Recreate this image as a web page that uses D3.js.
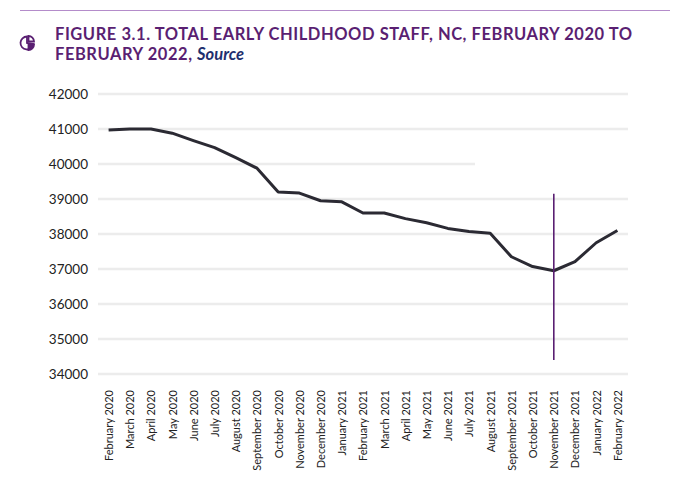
<!DOCTYPE html>
<html>
<head>
<meta charset="utf-8">
<script src="https://cdn.jsdelivr.net/npm/d3@7"></script>
<style>
  body { margin: 0; background: #fff; }
  text { font-family: Lato, "Open Sans", sans-serif; }
</style>
</head>
<body>
<script>
// Data
var months = ["February 2020", "March 2020", "April 2020", "May 2020", "June 2020",
    "July 2020", "August 2020", "September 2020", "October 2020", "November 2020",
    "December 2020", "January 2021", "February 2021", "March 2021", "April 2021",
    "May 2021", "June 2021", "July 2021", "August 2021", "September 2021",
    "October 2021", "November 2021", "December 2021", "January 2022", "February 2022"];
var staff = [40970, 41000, 41000, 40880, 40670, 40470, 40180, 39880, 39200, 39170,
    38950, 38920, 38600, 38600, 38440, 38320, 38160, 38070, 38020, 37350,
    37070, 36950, 37210, 37750, 38100];
var yTicks = [34000, 35000, 36000, 37000, 38000, 39000, 40000, 41000, 42000];
var markerMonth = "November 2021";
var markerRange = [34400, 39150];

var svgWidth = 680;
var svgHeight = 491;

var svg = d3.select("body")
    .append("svg")
    .attr("width", svgWidth)
    .attr("height", svgHeight);

// Top rule
svg.append("line")
    .attr("x1", 20).attr("x2", 670)
    .attr("y1", 10.5).attr("y2", 10.5)
    .attr("stroke", "#b48cca")
    .attr("stroke-width", 1.2);

// Pie icon
var icon = svg.append("g")
    .attr("transform", "translate(27, 43)")
    .attr("fill", "none")
    .attr("stroke", "#5a1f72")
    .attr("stroke-width", 1.8);
icon.append("path")
    .attr("d", d3.arc()({ innerRadius: 0, outerRadius: 6.5, startAngle: Math.PI * 0.55, endAngle: Math.PI * 2 }));
icon.append("path")
    .attr("transform", "translate(1.5,-1.5)")
    .attr("d", d3.arc()({ innerRadius: 0, outerRadius: 5.5, startAngle: 0, endAngle: Math.PI * 0.5 }));
icon.append("path")
    .attr("transform", "translate(1.5,1.5)")
    .attr("fill", "#5a1f72")
    .attr("d", d3.arc()({ innerRadius: 0, outerRadius: 5.5, startAngle: Math.PI * 0.5, endAngle: Math.PI }));

// Title
var title = svg.append("text")
    .attr("x", 55)
    .attr("y", 40)
    .attr("fill", "#5a1f72")
    .attr("font-size", "16.5px")
    .attr("font-weight", "bold")
    .attr("letter-spacing", "0.55px");
title.append("tspan")
    .attr("x", 55)
    .text("FIGURE 3.1. TOTAL EARLY CHILDHOOD STAFF, NC, FEBRUARY 2020 TO");
title.append("tspan")
    .attr("x", 55)
    .attr("dy", 19.5)
    .text("FEBRUARY 2022, ");
title.append("tspan")
    .attr("fill", "#1f2f6e")
    .attr("font-style", "italic")
    .attr("letter-spacing", "0px")
    .text("Source");

// Scales
var xScale = d3.scalePoint()
    .domain(months)
    .range([98, 628])
    .padding(0.5);

var yScale = d3.scaleLinear()
    .domain([34000, 42000])
    .range([374, 94]);

// Gridlines
svg.append("g")
    .selectAll("line")
    .data(yTicks)
    .enter()
    .append("line")
    .attr("x1", 98)
    .attr("x2", 628)
    .attr("y1", d => yScale(d))
    .attr("y2", d => yScale(d))
    .attr("stroke", "#ececec")
    .attr("stroke-width", 2.5);

// the 40000 line is cut short in the original
svg.append("rect")
    .attr("x", xScale("July 2021") + 6)
    .attr("y", yScale(40000) - 3)
    .attr("width", 640 - xScale("July 2021"))
    .attr("height", 6)
    .attr("fill", "#fff");

// Y axis labels
var leftAxis = d3.axisLeft(yScale)
    .tickValues(yTicks)
    .tickFormat(d3.format("d"))
    .tickSize(0)
    .tickPadding(0);

var yAxis = svg.append("g")
    .attr("transform", "translate(88, 0)")
    .call(leftAxis);
yAxis.select(".domain").remove();
yAxis.selectAll("text")
    .attr("font-size", "13.5px")
    .attr("fill", "#222");

// X axis labels
var bottomAxis = d3.axisBottom(xScale)
    .tickSize(0)
    .tickPadding(0);

var xAxis = svg.append("g")
    .attr("transform", "translate(0, 390)")
    .call(bottomAxis);
xAxis.select(".domain").remove();
xAxis.selectAll("text")
    .attr("font-size", "11px")
    .attr("fill", "#222")
    .attr("text-anchor", "end")
    .attr("dy", "0.35em")
    .attr("transform", "rotate(-90)")
    .attr("x", 0)
    .attr("y", 0);

// Line
var line = d3.line()
    .x((d, i) => xScale(months[i]))
    .y(d => yScale(d));

svg.append("path")
    .datum(staff)
    .attr("d", line)
    .attr("fill", "none")
    .attr("stroke", "#2b2a33")
    .attr("stroke-width", 3)
    .attr("stroke-linejoin", "round");

// Marker line
svg.append("line")
    .attr("x1", xScale(markerMonth))
    .attr("x2", xScale(markerMonth))
    .attr("y1", yScale(markerRange[1]))
    .attr("y2", yScale(markerRange[0]))
    .attr("stroke", "#5a1f72")
    .attr("stroke-width", 1.6);
</script>
</body>
</html>
